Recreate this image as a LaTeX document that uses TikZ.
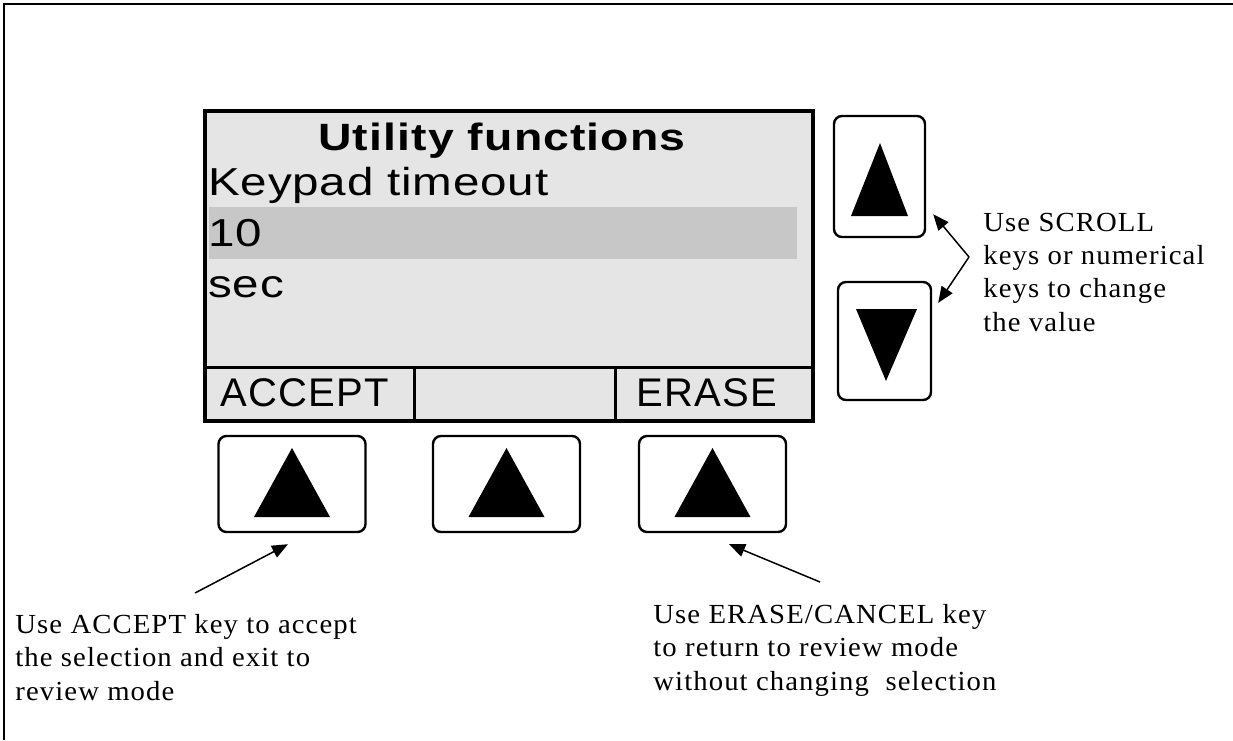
\documentclass[tikz,border=0pt]{standalone}
\usepackage{fontspec}
\setmainfont{Liberation Serif}
\newfontfamily\lcdfont[FakeStretch=1.22,LetterSpace=2]{Liberation Sans}
\newfontfamily\titlefont[FakeStretch=1.22,LetterSpace=3]{Liberation Sans Bold}
\newfontfamily\softfont[LetterSpace=3]{Liberation Sans}
\newfontfamily\notefont[FakeStretch=1.04,LetterSpace=4]{Liberation Serif}
\usetikzlibrary{arrows.meta,positioning}

\tikzset{
	keybox/.style={draw, line width=1.2pt, rounded corners=4pt, inner sep=0pt},
	lcd/.style={anchor=base west, inner sep=0pt, font=\lcdfont\fontsize{19.5}{22}\selectfont},
	softkey/.style={anchor=base, inner sep=0pt, font=\softfont\fontsize{20}{22}\selectfont},
	note/.style={anchor=base west, align=left, inner sep=0pt, font=\notefont\fontsize{13.8}{16.6}\selectfont},
	pointer/.style={line width=0.75pt, -{Triangle[length=8pt,width=6.5pt]}}
}

\begin{document}
\begin{tikzpicture}[x=0.5pt,y=-0.5pt]
	\useasboundingbox (0,0) rectangle (1233,740);
	\draw[line width=1pt] (4,740) -- (4,4) -- (1233,4);

	\node[draw, fill=black!10, line width=1.75pt, minimum width=304pt, minimum height=155pt, inner sep=0pt] (screen) at (509,266) {};
	\fill[black!22] (209,207) rectangle (797,259);
	\draw[line width=1.5pt] (205,367) -- (813,367);
	\draw[line width=1.5pt] (414,367) -- (414,421);
	\draw[line width=1.5pt] (615,367) -- (615,421);

	\node[anchor=base, inner sep=0pt, font=\titlefont\fontsize{19}{22}\selectfont] (title) at (502,150) {Utility functions};
	\node[lcd] (item) at (208,195) {Keypad timeout};
	\node[lcd] (value) at (208,246) {10};
	\node[lcd] (unit) at (208,297) {sec};
	\node[softkey] (accept) at (305,406) {ACCEPT};
	\node[softkey] (erase) at (707,406) {ERASE};

	\foreach \n/\x in {keyA/292,keyB/506.5,keyC/712.5}{
		\node[keybox, minimum width=73.5pt, minimum height=48pt] (\n) at (\x,484) {};
		\fill (\x,448) -- (\x+38,517) -- (\x-38,517) -- cycle;
	}
	\node[keybox, minimum width=45.5pt, minimum height=60.5pt] (keyUp) at (879.5,176.5) {};
	\fill (880,143) -- (908,216) -- (851,216) -- cycle;
	\node[keybox, minimum width=46.5pt, minimum height=59pt] (keyDown) at (884.5,341) {};
	\fill (856,309) -- (917,309) -- (886,381) -- cycle;

	\node[note] (scrollNote) at (983,331) {Use SCROLL\\keys or numerical\\keys to change\\the value};
	\node[note] (acceptNote) at (15,700) {Use ACCEPT key to accept\\the selection and exit to\\review mode};
	\node[note] (eraseNote) at (653,690) {Use ERASE/CANCEL key\\to return to review mode\\without changing~ selection};

	\coordinate (fork) at (969,257);
	\coordinate (acceptTail) at (195,593);
	\coordinate (eraseTail) at (820,582);
	\draw[pointer] (fork) -- ([shift={(7,-24)}]keyUp.south east);
	\draw[pointer] (fork) -- ([shift={(6,22)}]keyDown.north east);
	\draw[pointer] (acceptTail) -- ([shift={(-4,11)}]keyA.south);
	\draw[pointer] (eraseTail) -- ([shift={(16.5,11)}]keyC.south);
\end{tikzpicture}
\end{document}
